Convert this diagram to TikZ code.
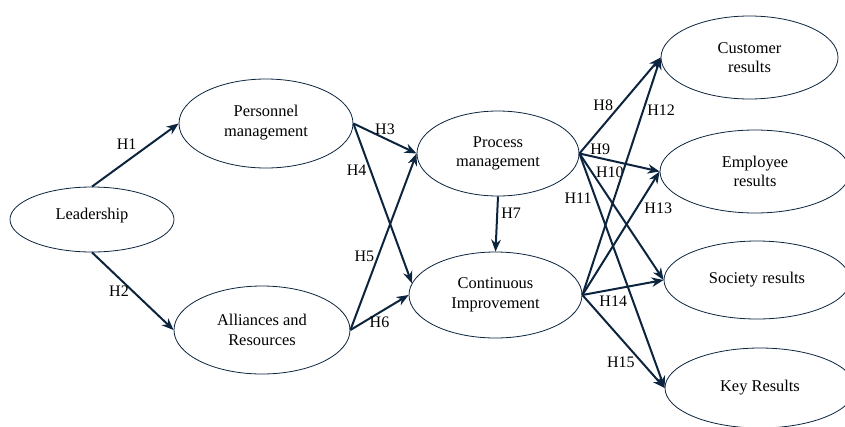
\documentclass[tikz,border=0pt]{standalone}
\usepackage{fontspec}
\setmainfont{Liberation Serif}
\usepackage{tikz}
\usetikzlibrary{arrows.meta,shapes.geometric,positioning}
\definecolor{navy}{RGB}{12,36,62}
\tikzset{
    %Define standard arrow tip
    >={Stealth[length=12pt,width=9.5pt]},
    %Define style for ellipses
    construct/.style={
           ellipse,
           draw=navy,
           line width=0.8pt,
           inner sep=0pt,
           align=center,
           font=\fontsize{16.4}{19.5}\selectfont},
    % Define arrow style
    hyp/.style={
           ->,
           color=navy,
           line width=2pt},
    % Define label style
    hlab/.style={
           text=black,
           inner sep=3pt,
           font=\fontsize{16}{18}\selectfont}
}
\begin{document}
\begin{tikzpicture}[x=1pt,y=-1pt]
	\useasboundingbox (0,0) rectangle (845,426);
	% styles
	\tikzstyle{result} = [construct, minimum width=190pt, minimum height=82pt]

	% enablers
	\node[construct, minimum width=164pt, minimum height=65pt, text depth=12pt](lead) at (92,219.5){Leadership};
	\node[construct, minimum width=174pt, minimum height=89pt](pers-man) at (266,123.5){Personnel\\management\\[-14pt]~};
	\node[construct, minimum width=176pt, minimum height=88pt](alli-res) at (262,330){Alliances and\\Resources};

	\path[hyp] (lead.north) edge node[hlab, pos=0.4, above=8pt] {H1} (pers-man.west)
	           (lead.south) edge node[hlab, pos=0.5, left] {H2} (alli-res.west);

	% processes
	\node[construct, minimum width=162pt, minimum height=85pt](proc-man) at (498,153.5){Process\\management};
	\node[construct, minimum width=173pt, minimum height=86pt](cont-imp) at (495.5,295){Continuous\\Improvement};

	\path[hyp] (pers-man.east) edge node[hlab, pos=0.5, above] {H3} (proc-man.west)
	           (pers-man.east) edge node[hlab, pos=0.29, left] {H4} (cont-imp.172)
	           (alli-res.east) edge node[hlab, pos=0.42, left] {H5} (proc-man.west)
	           (alli-res.east) edge node[hlab, pos=0.5, below] {H6} (cont-imp.west)
	           (proc-man.south) edge node[hlab, pos=0.3, right] {H7} (cont-imp.north);

	% results
	\node[result, minimum width=177pt, minimum height=83pt](res-cust) at (749.5,57.5){Customer\\results};
	\node[result, minimum width=190pt, minimum height=83pt](res-empl) at (755,171.5){Employee\\results};
	\node[result, minimum width=186pt, minimum height=78pt](res-soc) at (757,280){Society results};
	\node[result, minimum width=190pt, minimum height=80pt](res-key) at (760,388){Key Results};

	\path[hyp] (proc-man.east) edge node[hlab, pos=0.5, left=3pt] {H8} (res-cust.west)
	           (proc-man.east) edge node[hlab, pos=0.26, above] {H9} (res-empl.west)
	           (proc-man.east) edge node[hlab, pos=0.15, right] {H10} (res-soc.west)
	           (proc-man.east) edge node[hlab, pos=0.19, left] {H11} (res-key.west);

	\path[hyp] (cont-imp.east) edge node[hlab, pos=0.78, right] {H12} (res-cust.west)
	           (cont-imp.east) edge node[hlab, pos=0.7, right=4pt] {H13} (res-empl.west)
	           (cont-imp.east) edge node[hlab, pos=0.38, below=3pt] {H14} (res-soc.west)
	           (cont-imp.east) edge node[hlab, pos=0.72, left=3pt] {H15} (res-key.west);

\end{tikzpicture}
\end{document}
